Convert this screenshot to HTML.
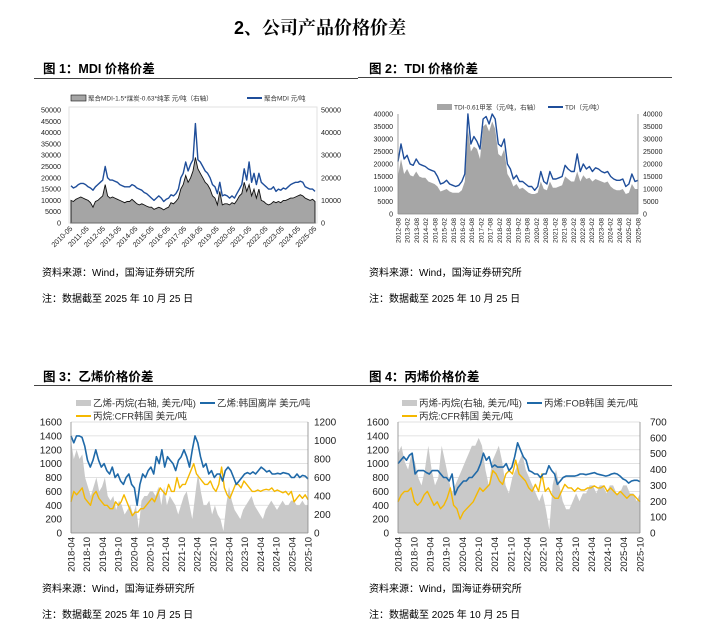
<!DOCTYPE html>
<html><head><meta charset="utf-8">
<style>
html,body{margin:0;padding:0;background:#fff;}
svg{display:block;font-family:"Liberation Sans","Noto Sans CJK SC",sans-serif;}
</style></head>
<body>
<svg id="root" width="714" height="637" viewBox="0 0 714 637" xmlns="http://www.w3.org/2000/svg">
<text x="320" y="34" font-size="18" font-weight="bold" text-anchor="middle" font-family="Liberation Sans, Noto Serif CJK SC, serif">2、公司产品价格价差</text>
<text x="43" y="73" font-size="12.5" font-weight="bold">图 1：MDI 价格价差</text>
<line x1="34" y1="78.5" x2="358" y2="78.5" stroke="#444" stroke-width="1"/>
<text x="369" y="73" font-size="12.5" font-weight="bold">图 2：TDI 价格价差</text>
<line x1="358" y1="77.5" x2="672" y2="77.5" stroke="#444" stroke-width="1"/>
<text x="43" y="381" font-size="12.5" font-weight="bold">图 3：乙烯价格价差</text>
<line x1="34" y1="385.5" x2="358" y2="385.5" stroke="#444" stroke-width="1"/>
<text x="369" y="381" font-size="12.5" font-weight="bold">图 4：丙烯价格价差</text>
<line x1="358" y1="385.5" x2="672" y2="385.5" stroke="#444" stroke-width="1"/>
<text x="42" y="276" font-size="10">资料来源：Wind，国海证券研究所</text>
<text x="42" y="302" font-size="10">注：数据截至 2025 年 10 月 25 日</text>
<text x="369" y="276" font-size="10">资料来源：Wind，国海证券研究所</text>
<text x="369" y="302" font-size="10">注：数据截至 2025 年 10 月 25 日</text>
<text x="42" y="592" font-size="10">资料来源：Wind，国海证券研究所</text>
<text x="42" y="618" font-size="10">注：数据截至 2025 年 10 月 25 日</text>
<text x="369" y="592" font-size="10">资料来源：Wind，国海证券研究所</text>
<text x="369" y="618" font-size="10">注：数据截至 2025 年 10 月 25 日</text>
</svg>
<script>
// ---- Chart 1: MDI ----
const mdiTicks = ["2010-05","2011-05","2012-05","2013-05","2014-05","2015-05","2016-05","2017-05","2018-05","2019-05","2020-05","2021-05","2022-05","2023-05","2024-05","2025-05"];
const mdiPrice = [16500,15500,16000,17000,17500,17500,17000,16000,15500,14500,16000,17000,18000,19000,25000,20000,19000,19000,18500,18000,17000,16500,16000,16000,16000,17000,16500,15500,15000,14500,13500,13000,12000,11000,10000,11000,12000,11000,9500,10500,11000,12500,12000,13000,15000,20000,22000,27000,23000,26000,28000,44000,28000,27000,25000,23000,22000,20000,17000,16000,13000,18000,12000,12500,12000,11000,12000,11000,13000,15000,17000,24000,19000,27000,18000,22000,17000,22000,18000,17000,16000,15000,15000,16000,14000,15000,14500,15500,15000,16000,17000,17500,18000,18000,18500,18000,16000,15500,15000,15000,14000];
const mdiSpread = [10000,9500,10500,11000,11500,11000,10500,10000,9000,7000,9500,10000,11000,12000,17000,12000,11000,11500,11000,10500,10000,9500,9000,9500,9500,10500,9500,8500,8000,8500,8000,7500,7000,7000,6000,6500,7000,6500,5800,6500,7000,9000,8500,9500,11000,15000,17000,21000,18000,20000,23000,29000,24000,22000,20000,18000,17000,15000,12000,11000,8000,14000,8000,8500,8500,8000,9000,8500,10000,12000,13000,18000,14000,17000,12000,15000,11000,15000,10000,9500,8500,8000,8500,9500,9000,9500,9000,10000,10000,10500,11000,11000,11500,12000,12500,12000,11000,10500,10000,10500,9500];
// ---- Chart 2: TDI ----
const tdiTicks = ["2012-08","2013-02","2013-08","2014-02","2014-08","2015-02","2015-08","2016-02","2016-08","2017-02","2017-08","2018-02","2018-08","2019-02","2019-08","2020-02","2020-08","2021-02","2021-08","2022-02","2022-08","2023-02","2023-08","2024-02","2024-08","2025-02","2025-08"];
const tdiPrice = [21000,28000,22000,23500,20000,19500,22000,20000,19500,19000,18000,17500,17000,15000,12000,12500,13500,12000,11500,11000,11500,13000,16000,40000,28000,31000,29000,26000,38000,39000,36000,40000,38000,28000,27000,30000,20000,18000,14000,15500,13000,13000,12000,11000,11000,9500,11000,17000,13000,12000,17000,14000,14000,14500,15000,19500,18000,17000,17000,24000,17000,20000,18000,19000,17000,18500,18000,17000,16500,17000,15000,14000,13500,13500,14000,11000,12000,16000,13000,13500];
const tdiSpread = [15000,22000,16000,18000,15500,15000,17000,15000,14500,14500,13000,12500,12000,11000,9000,9500,10000,9000,8500,8500,8500,9500,13000,34000,25000,27000,26000,22000,35000,36000,33000,37000,34000,24000,23000,26000,16000,14000,11000,12000,10000,10500,9500,8500,8000,8000,8500,13000,10000,9500,13000,10500,10500,11000,11500,15000,14000,13000,13000,17000,13000,15500,14000,14500,13000,14000,13500,13000,12500,13000,11000,10000,9500,9500,10000,8000,8500,12000,10000,10000];
// ---- Chart 3 / 4 shared ticks ----
const olefinTicks = ["2018-04","2018-10","2019-04","2019-10","2020-04","2020-10","2021-04","2021-10","2022-04","2022-10","2023-04","2023-10","2024-04","2024-10","2025-04","2025-10"];
const ethylenePrice = [1400,1300,1400,1400,1380,1250,1050,950,1050,1200,1050,950,1000,900,850,950,800,850,750,700,800,850,700,650,400,700,850,800,900,950,850,1100,1000,1200,950,1100,1050,1000,900,1050,1100,1200,1100,950,1200,1400,1300,1100,950,1000,850,900,800,850,850,750,900,950,900,800,700,750,800,850,870,850,880,850,900,950,920,880,900,850,850,860,850,870,860,850,800,800,850,800,830,820,780];
const propanePrice3 = [450,600,550,600,650,500,450,400,550,600,500,450,400,400,350,350,450,400,450,550,450,350,250,300,300,350,350,400,450,500,450,550,650,600,550,700,600,600,800,650,700,700,800,900,1000,850,800,750,700,700,750,650,600,700,950,650,550,500,600,700,700,650,750,700,650,600,600,620,600,620,630,620,650,600,620,600,580,600,550,600,450,500,550,500,550,480];
const ethyleneSpread = [1000,800,900,800,850,600,500,400,500,600,450,500,600,400,350,400,250,350,300,200,250,300,200,300,50,350,400,400,450,450,400,500,300,500,300,400,350,300,200,300,400,450,300,150,400,650,450,300,300,350,200,300,200,150,20,300,500,350,250,200,150,250,300,350,400,300,250,200,150,250,300,350,300,250,300,350,300,300,350,350,300,300,350,300,300];
const propylenePrice = [1000,1050,1100,1050,1120,1150,850,900,900,900,870,850,900,900,900,850,800,800,750,850,550,650,700,750,750,800,800,850,900,1000,1150,1050,1100,950,980,950,950,950,1000,900,950,1100,1300,1200,1100,1050,900,880,850,850,800,850,850,970,900,850,700,750,800,820,820,820,820,830,850,850,840,850,860,870,850,840,830,820,830,850,860,850,820,780,760,720,750,760,760,740];
const propanePrice4 = [450,550,600,600,650,450,400,450,550,600,500,400,450,350,400,500,650,400,350,200,300,350,400,450,550,650,600,650,700,900,850,750,700,850,900,850,1050,850,800,750,650,600,700,600,850,600,650,550,500,500,600,700,650,650,600,650,620,620,650,650,680,650,650,680,600,650,600,550,600,550,500,550,550,500,450];
const propyleneSpread = [500,550,450,400,500,450,350,300,400,550,400,300,350,550,450,350,250,300,350,400,450,500,550,550,600,550,400,300,450,500,550,450,300,250,350,400,450,500,400,350,300,250,200,250,150,20,300,400,300,200,150,150,200,250,200,250,250,300,300,250,300,300,250,300,300,250,250,300,300,250,250,200,250];

const NS = "http://www.w3.org/2000/svg";
const root = document.getElementById("root");
function mk(tag, attrs, parent) {
  const el = document.createElementNS(NS, tag);
  for (const k in attrs) el.setAttribute(k, attrs[k]);
  (parent || root).appendChild(el);
  return el;
}
function txt(s, attrs, parent) { const t = mk("text", attrs, parent); t.textContent = s; return t; }

function drawPanel(p) {
  const g = mk("g", {});
  
  
  const yL = v => p.yb - (v / p.lmax) * (p.yb - p.yt);
  const yR = v => p.yb - (v / p.rmax) * (p.yb - p.yt);
  const xs = (i, n) => p.x0 + (i / (n - 1)) * (p.x1 - p.x0);
  if (p.frame) {
    const fr = mk("rect", {x: p.x0 - 2, y: p.yt - 3, width: p.x1 - p.x0 + 4, height: p.yb - p.yt + 3, fill: "none", stroke: "#e2e2e2"}, g);
    
    
  }
  for (let v = 0; v <= p.lmax; v += p.lstep) {
    if (p.grid && v > 0) {
      const gl = mk("line", {x1: p.x0, x2: p.x1, y1: yL(v), y2: yL(v), stroke: "#d9d9d9", "stroke-width": 0.8}, g);
      
      
    }
    const t = txt(String(v), {x: p.x0 - p.lpad, y: yL(v) + p.fs * 0.35, "font-size": p.fs, "text-anchor": "end", fill: "#222"}, g);
    
    
  }
  for (let v = 0; v <= p.rmax; v += p.rstep) {
    const t = txt(String(v), {x: p.x1 + p.rpad, y: yR(v) + p.fs * 0.35, "font-size": p.fs, fill: "#222"}, g);
    
    
  }
  const a = p.area, ay = p.areaRight ? yR : yL;
  let d = "M" + p.x0 + "," + p.yb;
  a.forEach((v, i) => { d += " L" + xs(i, a.length).toFixed(1) + "," + ay(v).toFixed(1); });
  d += " L" + p.x1 + "," + p.yb + " Z";
  const ar = mk("path", {d: d, fill: p.areaColor, stroke: p.areaStroke || "none", "stroke-width": 0.9}, g);
  
  
  p.lines.forEach(ln => {
    const pts = ln.data.map((v, i) => xs(i, ln.data.length).toFixed(1) + "," + yL(v).toFixed(1)).join(" ");
    const pl = mk("polyline", {points: pts, fill: "none", stroke: ln.color, "stroke-width": ln.w, "stroke-linejoin": "round"}, g);
    
    
  });
  const ax = mk("line", {x1: p.x0, x2: p.x1, y1: p.yb, y2: p.yb, stroke: "#888", "stroke-width": 0.8}, g);
  
  
  if (p.vaxes) {
    const la = mk("line", {x1: p.x0, x2: p.x0, y1: p.yt, y2: p.yb, stroke: "#888", "stroke-width": 0.8}, g);
    
    
    const ra = mk("line", {x1: p.x1, x2: p.x1, y1: p.yt, y2: p.yb, stroke: "#888", "stroke-width": 0.8}, g);
    
    
  }
  p.ticks.forEach((s, i) => {
    const x = xs(i, p.ticks.length);
    let t;
    if (p.rot45) {
      t = txt(s, {x: x + 2, y: p.yb + 6, "font-size": p.xfs, "text-anchor": "end", transform: "rotate(-45 " + (x + 2) + " " + (p.yb + 6) + ")", fill: "#222"}, g);
    } else {
      t = txt(s, {x: x + p.xfs * 0.35, y: p.yb + 4, "font-size": p.xfs, "text-anchor": "end", transform: "rotate(-90 " + (x + p.xfs * 0.35) + " " + (p.yb + 4) + ")", fill: "#222"}, g);
    }
    
    
  });
  p.legend.forEach(L => {
    let m;
    if (L.type === "box") m = mk("rect", {x: L.x, y: L.y - 3, width: 15, height: 6, fill: p.areaColor, stroke: p.areaStroke || "none", "stroke-width": 0.6}, g);
    else m = mk("line", {x1: L.x, x2: L.x + 15, y1: L.y, y2: L.y, stroke: L.color, "stroke-width": 2}, g);
    
    
    const t = txt(L.text, {x: L.x + 17, y: L.y + L.fs * 0.35, "font-size": L.fs, fill: "#333"}, g);
    
    
  });
}

drawPanel({name: "mdi-chart", x0: 71, x1: 315, yt: 110, yb: 223, lmax: 50000, lstep: 5000, rmax: 50000, rstep: 10000,
  fs: 7.2, lpad: 10, rpad: 6, xfs: 7.2, rot45: true, frame: true, grid: false, vaxes: false,
  area: mdiSpread, areaRight: true, areaColor: "#a5a5a5", areaStroke: "#111",
  lines: [{name: "mdi-price-line", data: mdiPrice, color: "#1f4e9a", w: 1.4}], ticks: mdiTicks,
  legend: [{type: "box", x: 71, y: 98, text: "聚合MDI-1.5*煤炭-0.63*纯苯 元/吨（右轴）", fs: 6.5},
           {type: "line", x: 247, y: 98, color: "#1f4e9a", text: "聚合MDI 元/吨", fs: 6.5}]});

drawPanel({name: "tdi-chart", x0: 398, x1: 638, yt: 114, yb: 214, lmax: 40000, lstep: 5000, rmax: 40000, rstep: 5000,
  fs: 7, lpad: 5, rpad: 5, xfs: 6.8, rot45: false, frame: false, grid: false, vaxes: true,
  area: tdiSpread, areaRight: true, areaColor: "#a6a6a6",
  lines: [{name: "tdi-price-line", data: tdiPrice, color: "#1f4e9a", w: 1.4}], ticks: tdiTicks,
  legend: [{type: "box", x: 437, y: 107, text: "TDI-0.61甲苯（元/吨，右轴）", fs: 6.5},
           {type: "line", x: 548, y: 107, color: "#1f4e9a", text: "TDI（元/吨）", fs: 6.5}]});

drawPanel({name: "ethylene-chart", x0: 71, x1: 308, yt: 422, yb: 533, lmax: 1600, lstep: 200, rmax: 1200, rstep: 200,
  fs: 10, lpad: 9, rpad: 6, xfs: 9.5, rot45: false, frame: false, grid: true, vaxes: true,
  area: ethyleneSpread, areaRight: true, areaColor: "#c9c9c9",
  lines: [{name: "propane-price-line", data: propanePrice3, color: "#f5b800", w: 1.4},
          {name: "ethylene-price-line", data: ethylenePrice, color: "#1f69a8", w: 1.6}], ticks: olefinTicks,
  legend: [{type: "box", x: 76, y: 403, text: "乙烯-丙烷(右轴, 美元/吨)", fs: 9.5},
           {type: "line", x: 200, y: 403, color: "#1f69a8", text: "乙烯:韩国离岸 美元/吨", fs: 9.5},
           {type: "line", x: 76, y: 416, color: "#f5b800", text: "丙烷:CFR韩国 美元/吨", fs: 9.5}]});

drawPanel({name: "propylene-chart", x0: 398, x1: 640, yt: 422, yb: 533, lmax: 1600, lstep: 200, rmax: 700, rstep: 100,
  fs: 10, lpad: 9, rpad: 10, xfs: 9.5, rot45: false, frame: false, grid: true, vaxes: true,
  area: propyleneSpread, areaRight: true, areaColor: "#c9c9c9",
  lines: [{name: "propane-price-line", data: propanePrice4, color: "#f5b800", w: 1.4},
          {name: "propylene-price-line", data: propylenePrice, color: "#1f69a8", w: 1.6}], ticks: olefinTicks,
  legend: [{type: "box", x: 402, y: 403, text: "丙烯-丙烷(右轴, 美元/吨)", fs: 9.5},
           {type: "line", x: 527, y: 403, color: "#1f69a8", text: "丙烯:FOB韩国 美元/吨", fs: 9.5},
           {type: "line", x: 402, y: 416, color: "#f5b800", text: "丙烷:CFR韩国 美元/吨", fs: 9.5}]});
</script>
</body></html>
